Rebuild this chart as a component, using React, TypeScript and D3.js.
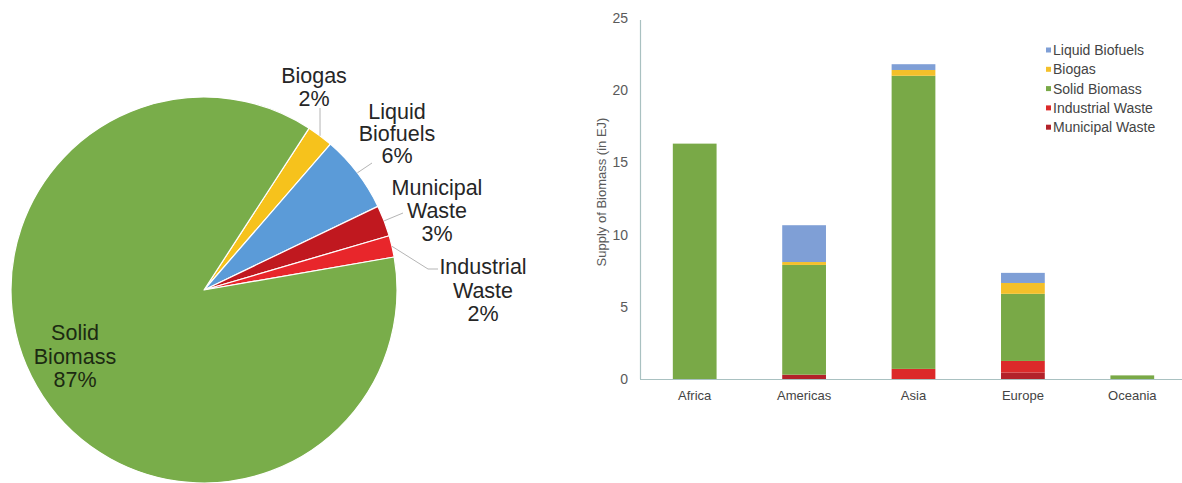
import * as d3 from "d3";
import { useEffect, useRef } from "react";

// pie shares (slice order clockwise, starting at the Biogas slice)
const pieNames = ["Biogas", "Liquid Biofuels", "Municipal Waste", "Industrial Waste", "Solid Biomass"];
const pieValues = [2.2, 6.5, 2.6, 1.8, 86.9];
const pieLabels = [["Biogas", "2%"], ["Liquid", "Biofuels", "6%"], ["Municipal", "Waste", "3%"], ["Industrial", "Waste", "2%"], ["Solid", "Biomass", "87%"]];

// bar chart data (EJ)
const regions = ["Africa", "Americas", "Asia", "Europe", "Oceania"];
const municipalWaste = [0, 0.3, 0, 0.45, 0];
const industrialWaste = [0, 0, 0.7, 0.8, 0];
const solidBiomass = [16.3, 7.6, 20.3, 4.65, 0.25];
const biogas = [0, 0.2, 0.4, 0.75, 0];
const liquidBiofuels = [0, 2.55, 0.4, 0.7, 0];
const yTicks = [0, 5, 10, 15, 20, 25];
const legendNames = ["Liquid Biofuels", "Biogas", "Solid Biomass", "Industrial Waste", "Municipal Waste"];

const pieColors: Record<string, string> = {
  "Biogas": "#f6c21c",
  "Liquid Biofuels": "#5b9bd8",
  "Municipal Waste": "#c0181f",
  "Industrial Waste": "#e8262b",
  "Solid Biomass": "#79ad4a",
};
const barColors: Record<string, string> = {
  "Liquid Biofuels": "#7f9fd6",
  "Biogas": "#f4c02a",
  "Solid Biomass": "#79a947",
  "Industrial Waste": "#dc2a2a",
  "Municipal Waste": "#b3222a",
};

const FONT = "'Liberation Sans', Arial, Helvetica, sans-serif";

const App = () => {
  const svgRef = useRef<SVGSVGElement>(null);

  const drawChart = () => {
    const svg = d3.select(svgRef.current);
    svg.selectAll("*").remove();
    svg.attr("width", 1182).attr("height", 483);

    svg.append("rect").attr("width", 1182).attr("height", 483).attr("fill", "#ffffff");

    // ---------- Pie ----------
    const cx = 204;
    const cy = 290;
    const r = 193;
    const start = (33 * Math.PI) / 180;

    const pie = d3
      .pie<number>()
      .sort(null)
      .value((d) => d)
      .startAngle(start)
      .endAngle(start + 2 * Math.PI);
    const arcs = pie(pieValues);
    const arc = d3.arc<d3.PieArcDatum<number>>().innerRadius(0).outerRadius(r);

    const pg = svg.append("g").attr("transform", `translate(${cx},${cy})`);
    pg.selectAll("path")
      .data(arcs)
      .enter()
      .append("path")
      .attr("d", arc)
      .attr("fill", (d, i) => pieColors[pieNames[i]])
      .attr("stroke", "#ffffff")
      .attr("stroke-width", 1.2)
      .attr("stroke-linejoin", "round");

    // label layout: centre x, first baseline, line height, leader end points
    const labelLayout = [
      { x: 314, y: 83, lh: 23, leader: [[320, 108]] },
      { x: 397, y: 119, lh: 22, leader: [[372, 163]] },
      { x: 437, y: 195, lh: 23, leader: [[403, 213]] },
      { x: 483, y: 274, lh: 23.5, leader: [[428, 269], [438, 269]] },
      { x: 75, y: 340, lh: 23.5, leader: [] as number[][] },
    ];

    arcs.forEach((a, i) => {
      const lay = labelLayout[i];
      const mid = (a.startAngle + a.endAngle) / 2;
      if (lay.leader.length) {
        const p = d3.pointRadial(mid, r);
        const pts = [[cx + p[0], cy + p[1]], ...lay.leader];
        svg
          .append("path")
          .attr("d", d3.line()(pts as [number, number][]))
          .attr("fill", "none")
          .attr("stroke", "#b5b5b5")
          .attr("stroke-width", 1);
      }
      const t = svg
        .append("text")
        .attr("font-family", FONT)
        .attr("font-size", 21.5)
        .attr("text-anchor", "middle")
        .attr("fill", i === 4 ? "#1c2a12" : "#262626");
      pieLabels[i].forEach((line, j) => {
        t.append("tspan").attr("x", lay.x).attr("y", lay.y + j * lay.lh).text(line);
      });
    });

    // ---------- Stacked bars ----------
    const x0 = 640;
    const x1 = 1187;
    const yBase = 379;
    const yTop = 18;

    const x = d3.scaleBand().domain(regions).range([x0, x1]).paddingInner(0.6).paddingOuter(0.3);
    const y = d3.scaleLinear().domain([0, 25]).range([yBase, yTop]);

    const rows = regions.map((name, i) => ({
      name,
      "Municipal Waste": municipalWaste[i],
      "Industrial Waste": industrialWaste[i],
      "Solid Biomass": solidBiomass[i],
      "Biogas": biogas[i],
      "Liquid Biofuels": liquidBiofuels[i],
    }));
    const keys = ["Municipal Waste", "Industrial Waste", "Solid Biomass", "Biogas", "Liquid Biofuels"];
    const series = d3.stack<any>().keys(keys)(rows);

    const bg = svg.append("g");
    series.forEach((s) => {
      bg.selectAll(null)
        .data(s)
        .enter()
        .append("rect")
        .attr("x", (d) => x(d.data.name) as number)
        .attr("width", x.bandwidth())
        .attr("y", (d) => y(d[1]))
        .attr("height", (d) => Math.max(0, y(d[0]) - y(d[1])))
        .attr("fill", barColors[s.key]);
    });

    // axes
    const axisColor = "#a9c1c1";
    svg.append("line").attr("x1", x0).attr("x2", 1182).attr("y1", yBase + 0.5).attr("y2", yBase + 0.5)
      .attr("stroke", axisColor).attr("stroke-width", 1.2);
    svg.append("line").attr("x1", x0 + 0.5).attr("x2", x0 + 0.5).attr("y1", yTop + 2).attr("y2", yBase)
      .attr("stroke", axisColor).attr("stroke-width", 1.2);

    svg.append("g")
      .selectAll("text")
      .data(yTicks)
      .enter()
      .append("text")
      .attr("x", 628)
      .attr("y", (d) => y(d) + 5)
      .attr("text-anchor", "end")
      .attr("font-family", FONT)
      .attr("font-size", 14)
      .attr("fill", "#5a5a5a")
      .text((d) => d);

    svg.append("g")
      .selectAll("text")
      .data(regions)
      .enter()
      .append("text")
      .attr("x", (d) => (x(d) as number) + x.bandwidth() / 2)
      .attr("y", 400)
      .attr("text-anchor", "middle")
      .attr("font-family", FONT)
      .attr("font-size", 13)
      .attr("fill", "#444")
      .text((d) => d);

    svg.append("text")
      .attr("transform", `translate(606,192) rotate(-90)`)
      .attr("text-anchor", "middle")
      .attr("font-family", FONT)
      .attr("font-size", 13)
      .attr("fill", "#5a5a5a")
      .text("Supply of Biomass (in EJ)");

    // legend
    const lg = svg.append("g");
    legendNames.forEach((name, i) => {
      const ly = 50 + i * 19.3;
      lg.append("rect").attr("x", 1046).attr("y", ly - 2.5).attr("width", 5).attr("height", 5)
        .attr("fill", barColors[name]);
      lg.append("text").attr("x", 1053).attr("y", ly + 5)
        .attr("font-family", FONT).attr("font-size", 14).attr("fill", "#444").text(name);
    });
  };

  useEffect(() => {
    drawChart();
  }, []);

  return <svg ref={svgRef} style={{ position: "absolute", left: 0, top: 0 }}></svg>;
};

export default App;
